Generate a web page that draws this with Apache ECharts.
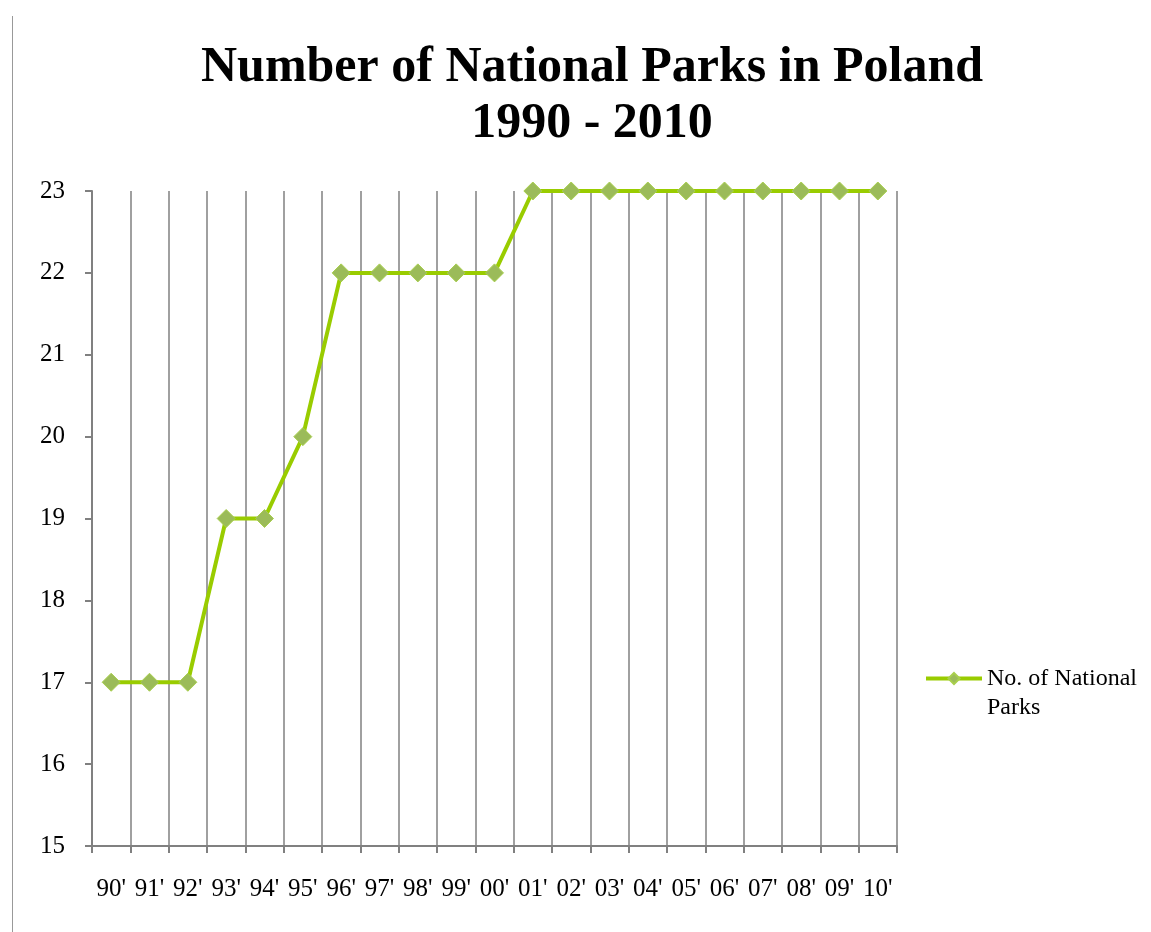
<!DOCTYPE html>
<html>
<head>
<meta charset="utf-8">
<script src="https://cdn.jsdelivr.net/npm/echarts@6/dist/echarts.min.js"></script>
<style>
  html, body { margin: 0; padding: 0; background: #fff; }
  #chart { width: 1151px; height: 932px; }
</style>
</head>
<body>
<div id="chart"></div>
<script>
  var myChart = echarts.init(document.getElementById("chart"));

  const years = ["90'", "91'", "92'", "93'", "94'", "95'", "96'", "97'", "98'", "99'", "00'",
    "01'", "02'", "03'", "04'", "05'", "06'", "07'", "08'", "09'", "10'"];
  const parks = [17, 17, 17, 19, 19, 20, 22, 22, 22, 22, 22,
    23, 23, 23, 23, 23, 23, 23, 23, 23, 23];
  const seriesName = "No. of National Parks";

  const serif = "Liberation Serif";

  option = {
    backgroundColor: "#fff",
    title: {
      text: "Number of National Parks in Poland\n1990 - 2010",
      left: 587,
      top: 35,
      textAlign: "center",
      textStyle: {
        fontFamily: serif,
        fontWeight: "bold",
        fontSize: 50,
        lineHeight: 56,
        color: "#000",
      },
    },
    legend: {
      left: 919,
      top: 630,
      orient: "vertical",
      itemWidth: 56,
      itemHeight: 14,
      itemGap: 5,
      lineStyle: { width: 4 },
      textStyle: {
        fontFamily: serif,
        fontSize: 24,
        lineHeight: 29,
        color: "#000",
      },
      // empty first line so the icon sits level with the first text line
      formatter: () => " \nNo. of National\nParks",
      data: [seriesName],
    },
    graphic: [
      {
        type: "line",
        shape: { x1: 12.5, y1: 16, x2: 12.5, y2: 932 },
        style: { stroke: "#999", lineWidth: 1 },
      },
    ],
    grid: {
      left: 92,
      top: 191,
      width: 805,
      height: 655,
      containLabel: false,
    },
    xAxis: {
      type: "category",
      data: years,
      boundaryGap: true,
      axisLine: { lineStyle: { color: "#808080", width: 2 } },
      axisTick: { show: true, length: 7, lineStyle: { color: "#808080", width: 2 } },
      axisLabel: {
        interval: 0,
        margin: 31,
        fontFamily: serif,
        fontSize: 25,
        color: "#000",
      },
      splitLine: { show: true, lineStyle: { color: "#808080", width: 1.5 } },
    },
    yAxis: {
      type: "value",
      min: 15,
      max: 23,
      interval: 1,
      axisLine: { show: true, lineStyle: { color: "#808080", width: 2 } },
      axisTick: { show: true, length: 7, lineStyle: { color: "#808080", width: 2 } },
      axisLabel: {
        margin: 27,
        fontFamily: serif,
        fontSize: 25,
        color: "#000",
      },
      splitLine: { show: false },
    },
    series: [
      {
        name: seriesName,
        type: "line",
        data: parks,
        symbol: "diamond",
        symbolSize: 18,
        lineStyle: { color: "#99CC00", width: 4 },
        itemStyle: { color: "#9BBB59", borderColor: "#A8CF4C", borderWidth: 1 },
      },
    ],
  };

  myChart.setOption(option, true);

  window.onresize = function () {
    myChart.resize();
  };
</script>
</body>
</html>
